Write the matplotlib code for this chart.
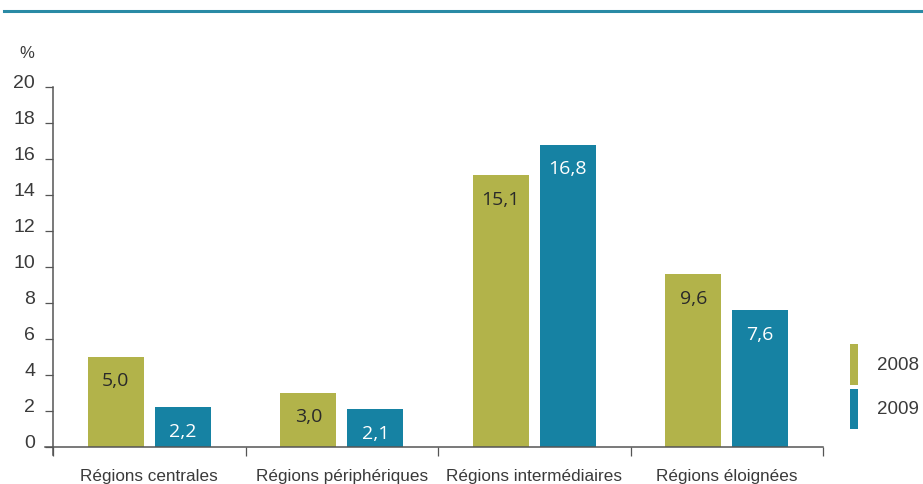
import matplotlib
matplotlib.use("Agg")
import matplotlib.pyplot as plt
from matplotlib.lines import Line2D
from matplotlib.transforms import offset_copy
import numpy as np

# Data
categories = ["Régions centrales", "Régions périphériques",
              "Régions intermédiaires", "Régions éloignées"]
years = ["2008", "2009"]
values_2008 = [5.0, 3.0, 15.1, 9.6]
values_2009 = [2.2, 2.1, 16.8, 7.6]
yticks = [0, 2, 4, 6, 8, 10, 12, 14, 16, 18, 20]

OLIVE = "#b2b34a"
TEAL = "#1682a3"
AXIS = "#555555"
TEXT = "#3a3a3a"

W, H = 923, 484
fig = plt.figure(figsize=(W / 100, H / 100), dpi=100)
ax = fig.add_axes([53 / W, 37 / H, 770 / W, 360 / H])

x = np.arange(len(categories))
bw = 0.291
off = 0.174
b1 = ax.bar(x - off, values_2008, bw, color=OLIVE, label=years[0], zorder=2)
b2 = ax.bar(x + off, values_2009, bw, color=TEAL, label=years[1], zorder=2)


def fmt(v):
    return f"{v:.1f}".replace(".", ",")


for bars, vals, col in ((b1, values_2008, "#2a2a2a"), (b2, values_2009, "white")):
    for r, v in zip(bars, vals):
        ax.annotate(fmt(v), (r.get_x() + r.get_width() / 2, v),
                    xytext=(0, -24.5), textcoords="offset pixels",
                    ha="center", va="center", fontsize=14,
                    family="Open Sans", color=col, zorder=3)

ax.set_xlim(-0.5, 3.5)
ax.set_ylim(0, 20)

for s in ("top", "right"):
    ax.spines[s].set_visible(False)
ax.spines["left"].set_bounds(-0.45, 20)
ax.spines["bottom"].set_bounds(-0.5 - 8 / 192.5, 3.5)
for s in ("left", "bottom"):
    ax.spines[s].set_color(AXIS)
    ax.spines[s].set_linewidth(1.1)
    ax.spines[s].set_zorder(4)

ax.set_yticks(yticks)
ax.set_yticklabels([str(t) for t in yticks])
ax.tick_params(axis="y", direction="out", length=5.8, width=0.9, color=AXIS,
               pad=7, labelsize=14, labelcolor=TEXT)
for lab in ax.get_yticklabels():
    lab.set_family("Liberation Sans")
    lab.set_transform(offset_copy(lab.get_transform(), fig=fig, x=0, y=6, units="dots"))

ax.set_xticks(np.arange(-0.5, 4, 1.0))
ax.set_xticklabels([])
ax.tick_params(axis="x", which="major", direction="out", length=6.5, width=0.9, color=AXIS)
ax.set_xticks(x, minor=True)
ax.set_xticklabels(categories, minor=True)
ax.tick_params(axis="x", which="minor", length=0, pad=15.5, labelsize=12.3, labelcolor=TEXT)
for lab in ax.get_xticklabels(minor=True):
    lab.set_family("Liberation Sans")

ax.annotate("%", (0, 1), xycoords="axes fraction", xytext=(-26, 33),
            textcoords="offset pixels", ha="center", va="center",
            fontsize=12, family="Liberation Sans", color=TEXT)

leg = ax.legend(loc="upper left", bbox_to_anchor=(850 / W, 1 - 344 / H),
                bbox_transform=fig.transFigure, frameon=False,
                handlelength=0.43, handleheight=2.97,
                labelspacing=0.2, handletextpad=1.0, borderpad=0,
                borderaxespad=0, prop={"family": "Liberation Sans", "size": 13.5})
for t in leg.get_texts():
    t.set_color(TEXT)

fig.add_artist(Line2D([4 / W, 1], [1 - 10.5 / H, 1 - 10.5 / H],
                      transform=fig.transFigure, color="#2a8aa5", linewidth=2.2))

fig.savefig("out.png", dpi=100)
